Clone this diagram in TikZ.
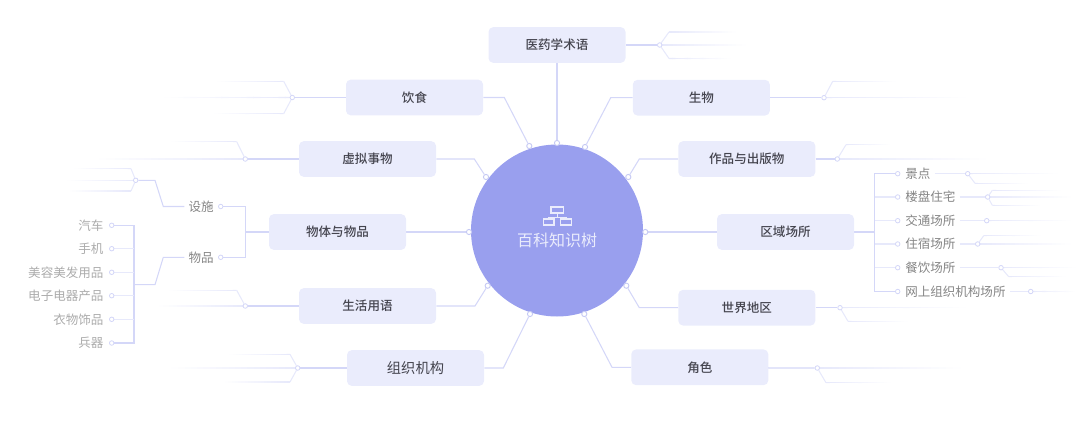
\documentclass[tikz,border=0pt]{standalone}
\usepackage{xcolor}
\usepackage{fontspec}
\setmainfont{Noto Sans CJK SC}
\newfontfamily\boxfont{Noto Sans CJK SC Medium}
\usetikzlibrary{calc,backgrounds}
\definecolor{hubBlue}{HTML}{999FEE}
\definecolor{boxFill}{HTML}{EAECFC}
\definecolor{lineNear}{HTML}{D4D7F8}
\definecolor{lineFar}{HTML}{E7E9FB}
\definecolor{dotLine}{HTML}{C6CAF4}
\definecolor{labelDark}{HTML}{44444E}
\definecolor{labelMid}{HTML}{858585}
\definecolor{labelPale}{HTML}{ABABAB}
\newcommand{\fadeline}[2]{%
    \coordinate (#1End) at (#2,0 |- #1);
    \foreach \i [evaluate=\i as \pct using {100-\i*5}] in {0,...,19}
        \draw[lineFar!\pct!white, line width=0.8pt] ($(#1)!\i/20!(#1End)$) -- ($(#1)!\i/20+0.06!(#1End)$);
}
\newcommand{\fadebranch}[4]{%
    \coordinate (#2) at (#3);
    \draw[farlink] (#1) -- (#2);
    \fadeline{#2}{#4}
}
\begin{document}
\begin{tikzpicture}[x=0.75pt, y=-0.75pt,
    topicbox/.style={draw=none, fill=boxFill, rounded corners=3.5pt, minimum width=102.75pt, minimum height=26.75pt, inner sep=0pt, font=\boxfont\fontsize{9.4pt}{11pt}\selectfont, text=labelDark},
    hubdot/.style={circle, draw=dotLine, fill=white, line width=0.7pt, minimum size=3.9pt, inner sep=0pt},
    smalldot/.style={circle, draw=lineNear, fill=white, line width=0.6pt, minimum size=3.4pt, inner sep=0pt},
    midlabel/.style={inner sep=3pt, font=\fontsize{9.4pt}{11pt}\selectfont, text=labelMid},
    palelabel/.style={inner sep=3pt, font=\fontsize{9.4pt}{11pt}\selectfont, text=labelPale},
    nearlink/.style={draw=lineNear, line width=0.8pt},
    farlink/.style={draw=lineFar, line width=0.8pt},
    iconline/.style={draw=boxFill, line width=0.9pt}]
    \useasboundingbox (0,0) rectangle (1080,421);
    \node[circle, fill=hubBlue, minimum size=129pt, inner sep=0pt] (hub) at (557,230.5) {};
    \node[font=\fontsize{12pt}{14pt}\selectfont, text=boxFill, inner sep=0pt] (hubText) at (557,240.5) {百科知识树};
    \node[draw=boxFill, line width=0.9pt, minimum width=9.6pt, minimum height=4.6pt, inner sep=0pt] (iconTop) at (557.3,210) {};
    \node[draw=boxFill, line width=0.9pt, minimum width=7.8pt, minimum height=4.6pt, inner sep=0pt] (iconLeft) at (548.8,222) {};
    \node[draw=boxFill, line width=0.9pt, minimum width=7.8pt, minimum height=4.6pt, inner sep=0pt] (iconRight) at (566,222) {};
    \draw[iconline] (iconTop.south) -- ++(0,3.5) -| (iconLeft.north);
    \draw[iconline] (iconTop.south) -- ++(0,3.5) -| (iconRight.north);

    \node[topicbox] (medTerm) at (557,45) {医药学术语};
    \node[topicbox] (food) at (414.5,97.5) {饮食};
    \node[topicbox] (bio) at (701.3,97.7) {生物};
    \node[topicbox] (virtual) at (367.5,159) {虚拟事物};
    \node[topicbox] (works) at (746.8,159) {作品与出版物};
    \node[topicbox] (objects) at (337.5,232) {物体与物品};
    \node[topicbox] (regions) at (785.5,232) {区域场所};
    \node[topicbox] (daily) at (367.5,306) {生活用语};
    \node[topicbox] (world) at (746.8,307.7) {世界地区};
    \node[topicbox, font=\rmfamily\fontsize{10.7pt}{12pt}\selectfont] (orgs) at (415.5,368) {组织机构};
    \node[topicbox] (roles) at (699.8,367.3) {角色};

    \node[hubdot] (medTermIn) at (557,143) {};
    \node[hubdot] (foodIn) at (529.3,146) {};
    \node[hubdot] (bioIn) at (585,147) {};
    \node[hubdot] (virtualIn) at (486,177) {};
    \node[hubdot] (worksIn) at (628.3,177) {};
    \node[hubdot] (objectsIn) at (469,232) {};
    \node[hubdot] (regionsIn) at (645.3,232) {};
    \node[hubdot] (dailyIn) at (487.7,285.7) {};
    \node[hubdot] (worldIn) at (626.3,285.7) {};
    \node[hubdot] (orgsIn) at (530,314) {};
    \node[hubdot] (rolesIn) at (584.3,314) {};

    \node[smalldot] (medTermOut) at (659.7,45) {};
    \node[smalldot] (foodOut) at (292.3,97.5) {};
    \node[smalldot] (bioOut) at (824,97.7) {};
    \node[smalldot] (virtualOut) at (245.3,159) {};
    \node[smalldot] (worksOut) at (837.3,159) {};
    \node[smalldot] (dailyOut) at (245.3,306) {};
    \node[smalldot] (worldOut) at (840,307.7) {};
    \node[smalldot] (orgsOut) at (297.7,368) {};
    \node[smalldot] (rolesOut) at (817.3,368) {};

    \node[midlabel, anchor=east] (facility) at (218,206.5) {设施};
    \node[midlabel, anchor=east] (goods) at (218,257.3) {物品};
    \node[smalldot] (facilityDot) at (220.7,206.5) {};
    \node[smalldot] (goodsDot) at (220.7,257.3) {};
    \node[smalldot] (facilityOut) at (135.7,180.3) {};
    \coordinate (objectsFork) at (245.5,232);
    \coordinate (goodsFork) at (134,284.7);

    \node[palelabel, anchor=east] (car) at (107.7,225.3) {汽车};
    \node[palelabel, anchor=east] (phone) at (107.7,248.7) {手机};
    \node[palelabel, anchor=east] (beauty) at (107.7,272.3) {美容美发用品};
    \node[palelabel, anchor=east] (device) at (107.7,295.7) {电子电器产品};
    \node[palelabel, anchor=east] (clothes) at (107.7,319.3) {衣物饰品};
    \node[palelabel, anchor=east] (weapon) at (107.7,343) {兵器};
    \node[smalldot] (carDot) at (111.7,225.3) {};
    \node[smalldot] (phoneDot) at (111.7,248.7) {};
    \node[smalldot] (beautyDot) at (111.7,272.3) {};
    \node[smalldot] (deviceDot) at (111.7,295.7) {};
    \node[smalldot] (clothesDot) at (111.7,319.3) {};
    \node[smalldot] (weaponDot) at (111.7,343) {};

    \coordinate (regionsFork) at (874.7,232);
    \node[midlabel, anchor=west] (spot) at (901,173.7) {景点};
    \node[midlabel, anchor=west] (estate) at (901,197) {楼盘住宅};
    \node[midlabel, anchor=west] (transit) at (901,220.7) {交通场所};
    \node[midlabel, anchor=west] (lodge) at (901,244) {住宿场所};
    \node[midlabel, anchor=west] (dining) at (901,267.7) {餐饮场所};
    \node[midlabel, anchor=west] (online) at (901,291.5) {网上组织机构场所};
    \node[smalldot] (spotDot) at (897.7,173.7) {};
    \node[smalldot] (estateDot) at (897.7,197) {};
    \node[smalldot] (transitDot) at (897.7,220.7) {};
    \node[smalldot] (lodgeDot) at (897.7,244) {};
    \node[smalldot] (diningDot) at (897.7,267.7) {};
    \node[smalldot] (onlineDot) at (897.7,291.5) {};
    \node[smalldot] (spotOut) at (967.7,173.7) {};
    \node[smalldot] (estateOut) at (987.7,197) {};
    \node[smalldot] (transitOut) at (986.7,220.7) {};
    \node[smalldot] (lodgeOut) at (977.7,244) {};
    \node[smalldot] (diningOut) at (1001,267.7) {};
    \node[smalldot] (onlineOut) at (1030.7,291.5) {};

    \begin{scope}[on background layer]
        \draw[nearlink] (medTerm) -- (medTermIn);
        \draw[nearlink] (food.east) -- (504.3,97.5) -- (foodIn);
        \draw[nearlink] (bio.west) -- (610.7,97.7) -- (bioIn);
        \draw[nearlink] (virtual.east) -- (474.3,159) -- (virtualIn);
        \draw[nearlink] (works.west) -- (639.3,159) -- (worksIn);
        \draw[nearlink] (objects.east) -- (objectsIn);
        \draw[nearlink] (regions.west) -- (regionsIn);
        \draw[nearlink] (daily.east) -- (475,306) -- (dailyIn);
        \draw[nearlink] (world.west) -- (639.3,307.7) -- (worldIn);
        \draw[nearlink] (orgs.east) -- (503.3,368) -- (orgsIn);
        \draw[nearlink] (roles.west) -- (612,367.3) -- (rolesIn);

        \draw[nearlink] (medTerm.east) -- (medTermOut);
        \fadeline{medTermOut}{745}
        \fadebranch{medTermOut}{medTermUp}{669,32}{735}
        \fadebranch{medTermOut}{medTermDown}{669,58.5}{730}

        \draw[nearlink] (food.west) -- (foodOut);
        \fadeline{foodOut}{165}
        \fadebranch{foodOut}{foodUp}{283.7,81.3}{218}
        \fadebranch{foodOut}{foodDown}{283.7,113.7}{215}

        \draw[nearlink] (bio.east) -- (bioOut);
        \fadeline{bioOut}{965}
        \fadebranch{bioOut}{bioUp}{832.7,81.3}{895}

        \draw[nearlink] (virtual.west) -- (virtualOut);
        \fadeline{virtualOut}{100}
        \fadebranch{virtualOut}{virtualUp}{236.7,141.7}{172}

        \draw[nearlink] (works.east) -- (worksOut);
        \fadeline{worksOut}{985}
        \fadebranch{worksOut}{worksUp}{846,144.7}{890}

        \draw[nearlink] (daily.west) -- (dailyOut);
        \fadeline{dailyOut}{160}
        \fadebranch{dailyOut}{dailyUp}{236.7,290.3}{170}

        \draw[nearlink] (world.east) -- (worldOut);
        \fadeline{worldOut}{965}
        \fadebranch{worldOut}{worldDown}{848,321.3}{907}

        \draw[nearlink] (orgs.west) -- (orgsOut);
        \fadeline{orgsOut}{172}
        \fadebranch{orgsOut}{orgsUp}{290,354.3}{230}
        \fadebranch{orgsOut}{orgsDown}{290,382}{225}

        \draw[nearlink] (roles.east) -- (768.3,368) -- (rolesOut);
        \fadeline{rolesOut}{960}
        \fadebranch{rolesOut}{rolesDown}{826,382.7}{890}

        \draw[nearlink] (objects.west) -- (objectsFork);
        \draw[nearlink] (facilityDot) -| (objectsFork) |- (goodsDot);
        \draw[nearlink] (facility.west) -- (163.3,206.5) -- (155,180.3) -- (facilityOut);
        \fadeline{facilityOut}{68}
        \fadebranch{facilityOut}{facilityUp}{131,168.7}{75}
        \fadebranch{facilityOut}{facilityDown}{131,191}{70}
        \draw[nearlink] (goods.west) -- (163.3,257.3) -- (155,284.7) -- (goodsFork);
        \draw[nearlink] (carDot) -| (goodsFork) |- (weaponDot);
        \draw[farlink] (phoneDot) -- (phoneDot -| goodsFork);
        \draw[farlink] (beautyDot) -- (beautyDot -| goodsFork);
        \draw[farlink] (deviceDot) -- (deviceDot -| goodsFork);
        \draw[farlink] (clothesDot) -- (clothesDot -| goodsFork);

        \draw[nearlink] (regions.east) -- (regionsFork);
        \draw[nearlink] (spotDot) -| (regionsFork) |- (onlineDot);
        \draw[farlink] (estateDot) -- (estateDot -| regionsFork);
        \draw[farlink] (transitDot) -- (transitDot -| regionsFork);
        \draw[farlink] (lodgeDot) -- (lodgeDot -| regionsFork);
        \draw[farlink] (diningDot) -- (diningDot -| regionsFork);

        \draw[farlink] (spot.east) -- (spotOut);
        \fadeline{spotOut}{1057}
        \fadebranch{spotOut}{spotDown}{975,183.3}{1027}
        \draw[farlink] (estate.east) -- (estateOut);
        \fadeline{estateOut}{1070}
        \fadebranch{estateOut}{estateUp}{992.3,190.3}{1060}
        \fadebranch{estateOut}{estateDown}{992.3,205.3}{1040}
        \draw[farlink] (transit.east) -- (transitOut);
        \fadeline{transitOut}{1070}
        \draw[farlink] (lodge.east) -- (lodgeOut);
        \fadeline{lodgeOut}{1070}
        \fadebranch{lodgeOut}{lodgeUp}{983.7,235.7}{1040}
        \draw[farlink] (dining.east) -- (diningOut);
        \fadeline{diningOut}{1075}
        \fadebranch{diningOut}{diningDown}{1008.7,276.7}{1065}
        \draw[farlink] (online.east) -- (onlineOut);
        \fadeline{onlineOut}{1075}
    \end{scope}
\end{tikzpicture}
\end{document}
